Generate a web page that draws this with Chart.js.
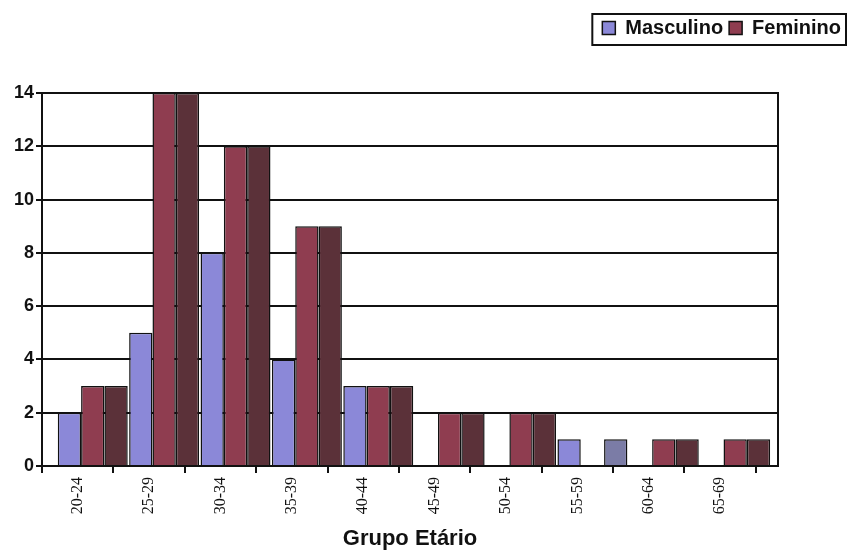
<!DOCTYPE html>
<html>
<head>
<meta charset="utf-8">
<script src="https://cdn.jsdelivr.net/npm/chart.js@4.4.0/dist/chart.umd.min.js"></script>
<style>
  html, body { margin: 0; padding: 0; background: #fff; }
  #wrap { width: 847px; height: 554px; }
</style>
</head>
<body>
<div id="wrap"><canvas id="grafico"></canvas></div>
<script>
// dados
const grupos = ['20-24', '25-29', '30-34', '35-39', '40-44', '45-49', '50-54', '55-59', '60-64', '65-69'];
const masculino = [2, 5, 8, 4, 3, 0, 0, 1, 0, 0];
const feminino = [3, 14, 12, 9, 3, 2, 2, 0, 1, 1];
const sombra = [3, 14, 12, 9, 3, 2, 2, 1, 1, 1]; // terceira barra (sem legenda)
const yTicks = [0, 2, 4, 6, 8, 10, 12, 14];

const AZUL = '#8b88d8';
const VERMELHO = '#8f3d50';
const ESCURO = '#5b3139';
const CINZA = '#7b7ca6';
const DESLOC = 0.21; // rótulos ficam à esquerda do centro das barras

const ctx = document.getElementById('grafico');

const moldura = { // borda em volta da área do gráfico e da legenda
    id: 'moldura',
    beforeInit(chart) {
        const fitOrig = chart.legend.fit;
        chart.legend.fit = function () {
            fitOrig.call(this);
            this.height += 45;
        };
    },
    afterDraw(chart) {
        const c = chart.ctx;
        const a = chart.chartArea;
        c.save();
        c.strokeStyle = '#111';
        c.lineWidth = 2;
        c.strokeRect(a.left, a.top, a.right - a.left, a.bottom - a.top);
        const caixas = chart.legend.legendHitBoxes;
        if (caixas && caixas.length) {
            const x0 = caixas[0].left - 10;
            c.strokeRect(x0, 14, chart.width - 1 - x0, 31);
        }
        c.restore();
    }
};

new Chart(ctx, {
    type: 'bar',
    data: {
        datasets: [{
            label: 'Masculino',
            data: masculino.map((v, i) => ({ x: i, y: v })),
            backgroundColor: AZUL,
            borderColor: '#111',
            borderWidth: 1.5
        },
        {
            label: 'Feminino',
            data: feminino.map((v, i) => ({ x: i, y: v })),
            backgroundColor: VERMELHO,
            borderColor: '#111',
            borderWidth: 1.5
        },
        {
            label: 'sombra',
            data: sombra.map((v, i) => ({ x: i, y: v })),
            backgroundColor: sombra.map((v, i) => feminino[i] === 0 ? CINZA : ESCURO),
            borderColor: '#111',
            borderWidth: 1.5
        }]
    },
    options: {
        responsive: true,
        maintainAspectRatio: false,
        animation: false,
        layout: {
            padding: { left: 0, right: 0, top: 12, bottom: 0 }
        },
        datasets: {
            bar: {
                categoryPercentage: 0.98,
                barPercentage: 1
            }
        },
        scales: {
            x: {
                type: 'linear',
                offset: false,
                min: -0.711,
                max: 9.6,
                afterBuildTicks: (scale) => {
                    scale.ticks = grupos.map((g, i) => ({ value: i - DESLOC }));
                },
                afterFit: (scale) => { scale.height = 88; },
                border: { display: true, color: '#111', width: 2 },
                grid: {
                    offset: true,
                    drawOnChartArea: false,
                    drawTicks: true,
                    tickLength: 7,
                    color: '#111',
                    lineWidth: 2
                },
                ticks: {
                    autoSkip: false,
                    minRotation: 90,
                    maxRotation: 90,
                    padding: 4,
                    color: '#111',
                    font: { family: 'Liberation Serif', size: 16 },
                    callback: (v, i) => grupos[i]
                },
                title: {
                    display: true,
                    text: 'Grupo Etário',
                    color: '#111',
                    padding: { top: 0, bottom: 2 },
                    font: { family: 'Liberation Sans', size: 22, weight: 'bold' }
                }
            },
            y: {
                min: 0,
                max: 14,
                afterBuildTicks: (scale) => {
                    scale.ticks = yTicks.map(v => ({ value: v }));
                },
                afterFit: (scale) => { scale.width = 42; },
                border: { display: true, color: '#111', width: 2 },
                grid: {
                    color: '#111',
                    lineWidth: 2,
                    tickLength: 6
                },
                ticks: {
                    padding: 2,
                    color: '#111',
                    font: { family: 'Liberation Sans', size: 18, weight: 'bold' }
                }
            },
            yDir: {
                position: 'right',
                display: true,
                afterFit: (scale) => { scale.width = 69; },
                grid: { display: false },
                border: { display: false },
                ticks: { display: false }
            }
        },
        plugins: {
            title: { display: false },
            tooltip: { enabled: false },
            legend: {
                display: true,
                position: 'top',
                align: 'end',
                labels: {
                    filter: (item) => item.datasetIndex < 2,
                    boxWidth: 13,
                    boxHeight: 13,
                    padding: 6,
                    color: '#111',
                    font: { family: 'Liberation Sans', size: 20, weight: 'bold' }
                }
            }
        }
    },
    plugins: [moldura]
});
</script>
</body>
</html>
